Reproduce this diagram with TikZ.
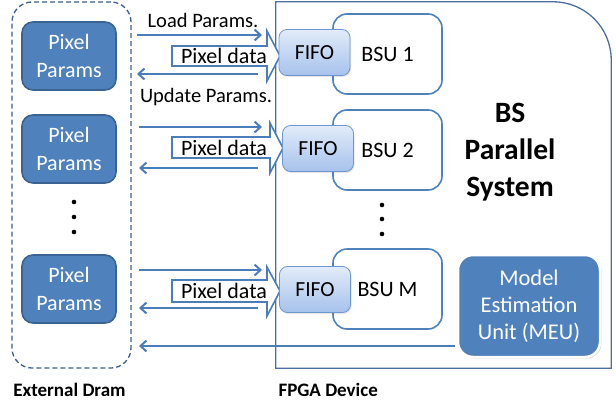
\documentclass[tikz,border=0pt]{standalone}
\usepackage{fontspec}
\setmainfont{Carlito}
\usetikzlibrary{arrows.meta}
\usetikzlibrary{shadows}
\usetikzlibrary{positioning}
\usetikzlibrary{calc}

\definecolor{boxblue}{HTML}{4F81BD}
\definecolor{boxedge}{HTML}{3A6392}
\definecolor{linkblue}{HTML}{4A7EBB}
\definecolor{fpgaedge}{HTML}{4C6F9F}
\definecolor{dramedge}{HTML}{3B5F8E}
\definecolor{fifotop}{HTML}{E2EBF9}
\definecolor{fifobot}{HTML}{A6C2EC}
\definecolor{fifoedge}{HTML}{6F97CF}

\tikzset{
  pixbox/.style={draw=boxedge, line width=1.6pt, fill=boxblue, rounded corners=11pt,
    minimum width=94pt, minimum height=68pt, align=center, text=white,
    font=\fontsize{22}{28}\selectfont},
  bsubox/.style={draw=boxblue, line width=1.6pt, fill=white, rounded corners=14pt,
    minimum width=109pt, minimum height=80pt, font=\fontsize{22}{26}\selectfont},
  fifobox/.style={draw=fifoedge, line width=0.8pt, rounded corners=8pt,
    top color=fifotop, bottom color=fifobot, minimum width=71pt, minimum height=46pt,
    font=\fontsize{21.5}{24}\selectfont,
    drop shadow={shadow xshift=1pt, shadow yshift=-1.5pt, opacity=0.2}},
  datashape/.style={draw=linkblue, line width=1.6pt, fill=white, line join=miter},
  datatext/.style={font=\fontsize{22}{24}\selectfont, inner sep=0pt},
  link/.style={draw=linkblue, line width=2.2pt,
    -{Straight Barb[length=6pt, width=11pt, line width=2pt]}},
  toplabel/.style={font=\fontsize{20.5}{24}\selectfont, inner sep=0pt},
  caption/.style={font=\fontsize{19}{22}\selectfont\bfseries}
}

\begin{document}
\begin{tikzpicture}[x=1pt, y=-1pt]
  \useasboundingbox (0,0) rectangle (616,407);

  % external memory
  \node[draw=dramedge, line width=1.3pt, dash pattern=on 5pt off 3pt,
        rounded corners=20pt, minimum width=119pt, minimum height=366pt]
        (dram) at (71.5,185) {};
  \node[pixbox] (pp1) at (69,56) {Pixel\\Params};
  \node[pixbox] (pp2) at (69,149) {Pixel\\Params};
  \node[pixbox] (ppM) at (69,289) {Pixel\\Params};
  \fill (74,202) circle[radius=2.3pt];
  \fill (74,217) circle[radius=2.3pt];
  \fill (74,232) circle[radius=2.3pt];

  % fpga outline, one round corner
  \node[minimum width=335pt, minimum height=366pt] (fpga) at (443.5,185) {};
  \draw[fpgaedge, line width=1.3pt] (fpga.south west) -- (fpga.north west)
    [rounded corners=58pt] -- (fpga.north east) [sharp corners] -- (fpga.south east)
    -- cycle;

  % data arrows into the fifos
  \draw[datashape] (172,46) -- (267,46) -- (267,31) -- (280,56) -- (267,81)
    -- (267,66) -- (172,66) -- cycle;
  \draw[datashape] (172,137) -- (270,137) -- (270,123) -- (283,148) -- (270,173)
    -- (270,158) -- (172,158) -- cycle;
  \draw[datashape] (172,280) -- (267,280) -- (267,267) -- (280,291) -- (267,316)
    -- (267,302) -- (172,302) -- cycle;
  \node[datatext] (pd1) at (224,56) {Pixel data};
  \node[datatext] (pd2) at (224,147.5) {Pixel data};
  \node[datatext] (pdM) at (224,291) {Pixel data};

  % background subtraction units
  \node[bsubox] (bsu1) at (387.5,54) {BSU 1};
  \node[bsubox] (bsu2) at (387.5,150) {BSU 2};
  \node[bsubox] (bsuM) at (387.5,289) {BSU M};
  \node[fifobox] (fifo1) at (314.5,52.5) {FIFO};
  \node[fifobox] (fifo2) at (318,148.5) {FIFO};
  \node[fifobox] (fifoM) at (315,289.5) {FIFO};
  \fill (382,205) circle[radius=2.3pt];
  \fill (382,219) circle[radius=2.3pt];
  \fill (382,234) circle[radius=2.3pt];

  \node[font=\fontsize{29.5}{37}\selectfont\bfseries, align=center] (bs) at (510,152)
    {BS\\Parallel\\System};

  \node[draw=white, line width=2.5pt, fill=boxblue, rounded corners=15pt,
        minimum width=142pt, minimum height=102pt, align=center, text=white,
        font=\fontsize{22.5}{27}\selectfont,
        drop shadow={shadow xshift=1.5pt, shadow yshift=-1.5pt, opacity=0.3}]
        (meu) at (529,306) {Model\\Estimation\\Unit (MEU)};

  % parameter links
  \coordinate (ld1s) at (137,35);  \coordinate (ld1) at (262,35);
  \coordinate (ld2s) at (139,127); \coordinate (ld2) at (262,127);
  \coordinate (ldMs) at (139,270); \coordinate (ldM) at (262,270);
  \coordinate (up1) at (258,74);   \coordinate (up1e) at (137,74);
  \coordinate (up2) at (258,168);  \coordinate (up2e) at (139,168);
  \coordinate (upM) at (258,308);  \coordinate (upMe) at (139,308);
  \coordinate (meuout) at (455,346); \coordinate (meuin) at (139,346);

  \draw[link] (ld1s) -- (ld1);
  \draw[link] (up1) -- (up1e);
  \draw[link] (ld2s) -- (ld2);
  \draw[link] (up2) -- (up2e);
  \draw[link] (ldMs) -- (ldM);
  \draw[link] (upM) -- (upMe);
  \draw[link] (meuout) -- (meuin);

  \node[toplabel] (loadlabel) at (203,20) {Load Params.};
  \node[toplabel] (updlabel) at (206,97) {Update Params.};

  \node[caption] (dramlabel) at (69.5,390) {External Dram};
  \node[caption, anchor=west] (fpgalabel) at (275,390) {FPGA Device};
\end{tikzpicture}
\end{document}
